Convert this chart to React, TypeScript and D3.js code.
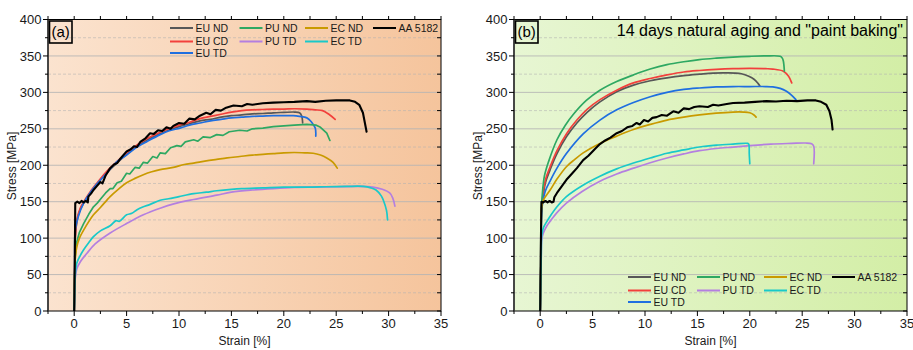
import React from 'react';
import * as d3 from 'd3';

type Pt = [number, number];

const strainMajor = [0, 5, 10, 15, 20, 25, 30, 35];
const strainMinor = [-2.5, 2.5, 7.5, 12.5, 17.5, 22.5, 27.5, 32.5];
const stressMajor = [0, 50, 100, 150, 200, 250, 300, 350, 400];
const stressMinor = [25, 75, 125, 175, 225, 275, 325, 375];

const seriesNames = ['EU ND', 'EU CD', 'EU TD', 'PU ND', 'PU TD', 'EC ND', 'EC TD', 'AA 5182'];
const seriesColors = ['#575757', '#f2403c', '#1f6fe0', '#2ea862', '#b47fe0', '#c99a00', '#19c9c9', '#000000'];

// ---------- Panel (a) ----------
const aEUND: Pt[] = [[0,0],[0.05,60],[0.1,100],[0.3,126],[0.6,140],[1,150],[1.5,161],[2.2,174],[3,188],[4,202],[5,215],[6,226],[7,235],[8,242],[9,248],[10,253],[11,257],[12,261],[13,263],[14,266],[15,268],[16,269],[17,270.5],[18,271],[19,272],[20,272.5],[21,273],[21.5,272],[21.7,268],[21.8,258]];
const aEUCD: Pt[] = [[0,0],[0.05,60],[0.1,100],[0.3,128],[0.6,142],[1,152],[1.5,163],[2.2,176],[3,190],[4,204],[5,217],[6,228],[7,237],[8,244],[9,250],[10,255],[11,259],[12,264],[13,267],[14,270],[15,273],[16,275],[17,276],[18,276.5],[19,277],[20,277],[21,277.5],[22.2,277],[23,276],[23.7,275],[24.3,270],[24.9,263]];
const aEUTD: Pt[] = [[0,0],[0.05,60],[0.1,111],[0.4,130],[0.9,148],[1.5,162],[2.2,175],[3.1,189],[4,204],[5,214],[6,225],[7,233],[8.2,242],[9,247],[10.1,251],[11,255],[12,258],[13,261],[14,263],[15,265],[16,266],[17,267],[18,267.5],[19,268],[20,268],[20.9,268],[21.5,267],[22.2,265],[22.6,260],[23,251],[23.05,240]];
const aPUND: Pt[] = [[0,0],[0.05,50],[0.1,75],[0.25,95],[0.5,108],[0.9,120],[1.4,133],[1.84,143],[2.2,148],[2.6,155],[3.0,162],[3.43,168],[3.7,168],[4.1,176],[4.5,178],[5.0,189],[5.3,188],[5.8,197],[6.2,196],[6.6,204],[7.0,203],[7.5,212],[7.9,210],[8.2,217],[8.7,216],[9.2,224],[9.8,227],[10.2,226],[10.6,232],[11.4,235],[11.8,233],[12.3,239],[13,238],[13.6,242],[14.2,241],[14.8,246],[15.8,248],[16.5,247],[17,250],[18,251],[19,253],[20,254],[21,255],[22.2,256],[23.1,255],[23.5,252],[24.1,244],[24.4,234]];
const aPUTD: Pt[] = [[0,0],[0.05,30],[0.1,45],[0.25,58],[0.6,68],[1.2,79],[2,92],[3.43,107],[5.0,120],[6.6,132],[8.2,141],[9.5,147],[11.4,153],[13.6,159],[15,163],[17,166],[19,168],[21,169.5],[23,170],[25,170.5],[27,171],[28.5,170],[29.4,167],[30.1,162],[30.4,155],[30.6,144]];
const aECND: Pt[] = [[0,0],[0.05,50],[0.1,72],[0.25,88],[0.5,100],[0.9,111],[1.84,132],[2.5,142],[3.43,157],[4.2,167],[5.0,176],[5.8,182],[6.6,187],[7.4,191],[8.2,194],[9.46,197],[10.5,201],[11.4,203],[12.6,206],[13.6,208],[14.6,210],[15.8,212],[17,214],[18,215],[19,216],[20,217],[21,217.5],[22,217],[22.8,216.5],[23.5,214],[24.1,210],[24.7,204],[25.1,196]];
const aECTD: Pt[] = [[0,0],[0.05,30],[0.1,50],[0.25,66],[0.5,74],[0.9,84],[1.4,94],[1.84,102],[2.5,110],[3.43,117],[4,124],[4.3,123],[5.0,132],[5.5,134],[6.0,139],[6.6,143],[7.2,146],[8.2,152],[9,154],[10,157],[11.4,161],[12.6,163],[13.6,165],[15,167],[16,168],[18,169],[20,170],[22.2,170],[24,170.5],[26,171],[27.6,171],[28.3,169],[28.8,166],[29.3,158],[29.5,152],[29.8,138],[29.9,125]];
const aAA5182: Pt[] = [[0,0],[0.05,60],[0.1,148],[0.3,150],[0.5,148],[0.7,151],[0.9,149],[1.1,151],[1.3,149],[1.35,157],[1.6,161],[1.84,166],[2.2,172],[2.5,177],[2.7,175],[3.0,186],[3.43,196],[3.8,201],[4.1,203],[4.4,209],[5.0,219],[5.4,222],[5.7,226],[6.0,225],[6.3,232],[6.8,237],[7.24,244],[7.6,243],[8.0,248],[8.4,247],[8.8,252],[9.2,250],[9.46,254],[10,258],[10.5,257],[11,264],[11.5,263],[12,268],[12.6,272],[13,270],[13.5,276],[14,275],[14.5,279],[15.2,282],[16,281],[16.5,284],[17,283],[18,285],[19,286],[20,286.5],[21,287],[22.2,288],[23,287],[24,288.5],[25,289],[26.3,289],[26.8,287],[27.2,283],[27.55,272],[27.9,246]];

// ---------- Panel (b) ----------
const bEUND: Pt[] = [[0,0],[0.08,80],[0.12,140],[0.2,150],[0.5,176],[0.95,194],[1.6,216],[2.5,239],[3.5,258],[4.5,273],[5.7,287],[7.3,301],[8.9,310],[10.5,316],[12.1,320],[13.7,323],[15.2,325],[16.5,326.5],[17.8,326.7],[18.6,326.5],[19.2,325.5],[19.9,322],[20.4,318],[20.8,312],[20.95,309]];
const bEUCD: Pt[] = [[0,0],[0.08,80],[0.12,140],[0.2,152],[0.5,180],[0.95,198],[1.6,220],[2.5,243],[3.5,262],[4.5,277],[5.7,290],[7.3,303],[8.9,313],[10.5,319],[12.1,324],[13.7,328],[15.2,330],[16.8,331.5],[18.4,332.5],[20,333],[21.5,332.5],[22.2,332],[23.2,329],[23.7,322],[24.0,313]];
const bEUTD: Pt[] = [[0,0],[0.08,80],[0.12,130],[0.2,145],[0.5,165],[1,180],[1.6,196],[2.5,216],[4.1,243],[5.7,262],[7.3,276],[8.9,286],[10.5,294],[12.1,300],[13.7,304],[15.2,306],[16.8,307.5],[18.4,308],[20,308],[21.5,308],[22.2,307.5],[22.9,305.5],[23.5,301.5],[24,296],[24.4,290]];
const bPUND: Pt[] = [[0,0],[0.08,80],[0.12,140],[0.2,160],[0.4,185],[0.8,205],[1.6,235],[2.4,255],[3.17,270],[4.4,289],[5.7,303],[7.3,315],[8.9,324],[10.5,332],[12.1,338],[13.7,342],[15.2,345],[16.8,347],[18.4,348.5],[20,349.5],[21.5,350],[22.9,349.5],[23.1,347],[23.2,343],[23.3,329]];
const bPUTD: Pt[] = [[0,0],[0.05,40],[0.1,75],[0.15,98],[0.3,107],[0.6,116],[1,124],[1.6,135],[2.5,148],[4,164],[5.7,178],[7.3,188],[8.9,196],[10.5,203.5],[12.1,210],[13.7,215.5],[15.2,220],[16.8,223],[18.4,225],[20,227],[22,229],[24,230],[25.3,230.5],[25.9,229.5],[26.1,226],[26.1,202]];
const bECND: Pt[] = [[0,0],[0.08,80],[0.12,140],[0.3,152],[0.95,166],[1.6,181],[2.5,198],[3.3,208],[4.1,217],[5.7,230],[7.3,240],[8.9,249],[10.5,256],[12.1,262],[13.7,266],[15.2,269],[16.8,271.5],[18.4,273],[19.4,273],[20,272],[20.4,269],[20.6,266]];
const bECTD: Pt[] = [[0,0],[0.05,40],[0.1,80],[0.15,104],[0.3,114],[0.6,122],[0.95,130],[1.6,143],[2.5,157],[4,172],[5.7,185],[7.3,195],[8.9,203],[10.5,210],[12.1,216.5],[13.7,221],[15.2,225],[16.8,227.5],[18.4,229],[19.8,230],[19.9,229],[19.95,215],[20,202]];
const bAA5182: Pt[] = [[0,0],[0.05,80],[0.12,150],[0.3,149],[0.5,151],[0.7,149],[0.9,151],[1.1,149],[1.27,150],[1.35,156],[1.6,162],[2.0,170],[2.5,180],[3.0,188],[3.5,196],[4.1,207],[4.6,213],[5.2,222],[5.7,229],[6.2,234],[6.7,238],[7.3,244],[7.8,247],[8.3,252],[8.8,254],[9.2,258],[9.5,256],[9.9,262],[10.3,260],[10.7,265],[11.1,266],[11.6,269],[12.1,268],[12.7,274],[13.2,272],[13.7,278],[14.2,277],[14.7,280],[15.2,281],[16,280],[16.5,283],[17,282],[17.8,284],[18.4,285.5],[19.5,286],[20.5,287],[21.6,288],[22.5,287.5],[23.5,288.5],[24.5,288],[25.5,289],[26.3,289],[26.8,287],[27.3,283],[27.6,274],[27.8,262],[27.9,249]];

const panelA = [aEUND, aEUCD, aEUTD, aPUND, aPUTD, aECND, aECTD, aAA5182];
const panelB = [bEUND, bEUCD, bEUTD, bPUND, bPUTD, bECND, bECTD, bAA5182];
const jaggedA = [false, false, false, true, false, false, false, true];
const jaggedB = [false, false, false, false, false, false, false, true];

const FONT = 'Arial, "Liberation Sans", Helvetica, sans-serif';

const legendCols = [[0, 1, 2], [3, 4], [5, 6], [7]];

interface PanelProps {
  id: string;
  left: number;
  data: Pt[][];
  jagged: boolean[];
  bg: [string, string];
  label: string;
  title?: string;
  legendX: number[];
  legendY: number[];
}

function Panel({ id, left, data, jagged, bg, label, title, legendX, legendY }: PanelProps) {
  const width = 393;
  const top = 19.5;
  const bottom = 311;
  const right = left + width;
  const x = d3.scaleLinear().domain([-2.5, 35]).range([left, right]);
  const y = d3.scaleLinear().domain([0, 400]).range([bottom, top]);
  const smooth = d3.line<Pt>().x(d => x(d[0])).y(d => y(d[1])).curve(d3.curveCatmullRom.alpha(0.5));
  const rough = d3.line<Pt>().x(d => x(d[0])).y(d => y(d[1])).curve(d3.curveLinear);

  return (
    <g>
      <defs>
        <linearGradient id={`bg-${id}`} x1="0" x2="1" y1="0" y2="0">
          <stop offset="0" stopColor={bg[0]} />
          <stop offset="1" stopColor={bg[1]} />
        </linearGradient>
        <clipPath id={`clip-${id}`}>
          <rect x={left} y={top} width={width} height={bottom - top} />
        </clipPath>
      </defs>
      <rect x={left} y={top} width={width} height={bottom - top} fill={`url(#bg-${id})`} />
      {stressMinor.map(v => (
        <line key={`gm${v}`} x1={left} x2={right} y1={y(v)} y2={y(v)} stroke="#b0b0b0" strokeOpacity={0.55} strokeDasharray="3,2" strokeWidth={1} />
      ))}
      {stressMajor.filter(v => v > 0 && v < 400).map(v => (
        <line key={`gM${v}`} x1={left} x2={right} y1={y(v)} y2={y(v)} stroke="#b4b4b4" strokeOpacity={0.85} strokeWidth={1} />
      ))}
      <g clipPath={`url(#clip-${id})`}>
        {data.map((s, i) => (
          <path key={i} d={(jagged[i] ? rough : smooth)(s) || ''} fill="none" stroke={seriesColors[i]}
            strokeWidth={i === 7 ? 2.1 : 1.7} strokeLinejoin="round" strokeLinecap="round" />
        ))}
      </g>
      {/* frame */}
      <rect x={left} y={top} width={width} height={bottom - top} fill="none" stroke="#000" strokeWidth={1} />
      <line x1={left} x2={left} y1={top} y2={bottom} stroke="#3a3a3a" strokeWidth={1.6} />
      {/* bottom ticks */}
      {strainMajor.map(v => (
        <line key={`bt${v}`} x1={x(v)} x2={x(v)} y1={bottom} y2={bottom + 5} stroke="#000" />
      ))}
      {strainMinor.map(v => (
        <line key={`btm${v}`} x1={x(v)} x2={x(v)} y1={bottom} y2={bottom + 3} stroke="#000" />
      ))}
      {/* top ticks */}
      {strainMajor.concat(strainMinor).map(v => (
        <line key={`tt${v}`} x1={x(v)} x2={x(v)} y1={top} y2={top - 3.5} stroke="#000" />
      ))}
      {/* left ticks */}
      {stressMajor.map(v => (
        <line key={`lt${v}`} x1={left} x2={left - 5} y1={y(v)} y2={y(v)} stroke="#000" />
      ))}
      {stressMinor.map(v => (
        <line key={`ltm${v}`} x1={left} x2={left - 3} y1={y(v)} y2={y(v)} stroke="#000" />
      ))}
      {/* right ticks (inward) */}
      {stressMajor.concat(stressMinor).map(v => (
        <line key={`rt${v}`} x1={right} x2={right - 4} y1={y(v)} y2={y(v)} stroke="#000" />
      ))}
      {/* tick labels */}
      {stressMajor.map(v => (
        <text key={`yl${v}`} x={left - 6.5} y={y(v)} dy="0.36em" textAnchor="end" fontSize={13} fill="#1a1a1a" fontFamily={FONT}>{v}</text>
      ))}
      {strainMajor.map(v => (
        <text key={`xl${v}`} x={x(v)} y={327.5} textAnchor="middle" fontSize={13} fill="#1a1a1a" fontFamily={FONT}>{v}</text>
      ))}
      <text x={(left + right) / 2} y={345} textAnchor="middle" fontSize={12} fill="#1a1a1a" fontFamily={FONT}>Strain [%]</text>
      <text transform={`translate(${left - 32},${166}) rotate(-90)`} textAnchor="middle" fontSize={12} fill="#1a1a1a" fontFamily={FONT}>Stress [MPa]</text>
      {/* panel label */}
      <rect x={left + 1.5} y={top + 1.5} width={22.5} height={22} fill="none" stroke="#000" strokeWidth={1.6} />
      <text x={left + 12.7} y={top + 17.5} textAnchor="middle" fontSize={15} fill="#000" fontFamily={FONT}>{label}</text>
      {title && (
        <text x={right - 4} y={36} textAnchor="end" fontSize={16} fill="#000" fontFamily={FONT}>{title}</text>
      )}
      {/* legend */}
      {legendCols.map((col, ci) => col.map((si, ri) => (
        <g key={`lg${si}`}>
          <line x1={legendX[ci]} x2={legendX[ci] + 23} y1={legendY[ri]} y2={legendY[ri]} stroke={seriesColors[si]} strokeWidth={2} />
          <text x={legendX[ci] + 25.5} y={legendY[ri]} dy="0.36em" fontSize={10.5} fill="#1a1a1a" fontFamily={FONT}>{seriesNames[si]}</text>
        </g>
      )))}
    </g>
  );
}

export default function App() {
  return (
    <svg width={913} height={350} style={{ position: 'absolute', left: 0, top: 0, display: 'block', background: '#fff' }}>
      <Panel id="a" left={48} data={panelA} jagged={jaggedA} bg={['#fbe3cf', '#f5c49c']} label="(a)"
        legendX={[170, 239.5, 305, 373]} legendY={[28, 41.5, 53]} />
      <Panel id="b" left={514} data={panelB} jagged={jaggedB} bg={['#e7f6d3', '#d3eea6']} label="(b)"
        title={'14 days natural aging and "paint baking"'}
        legendX={[628, 697, 764, 832]} legendY={[277, 290.5, 302]} />
    </svg>
  );
}
